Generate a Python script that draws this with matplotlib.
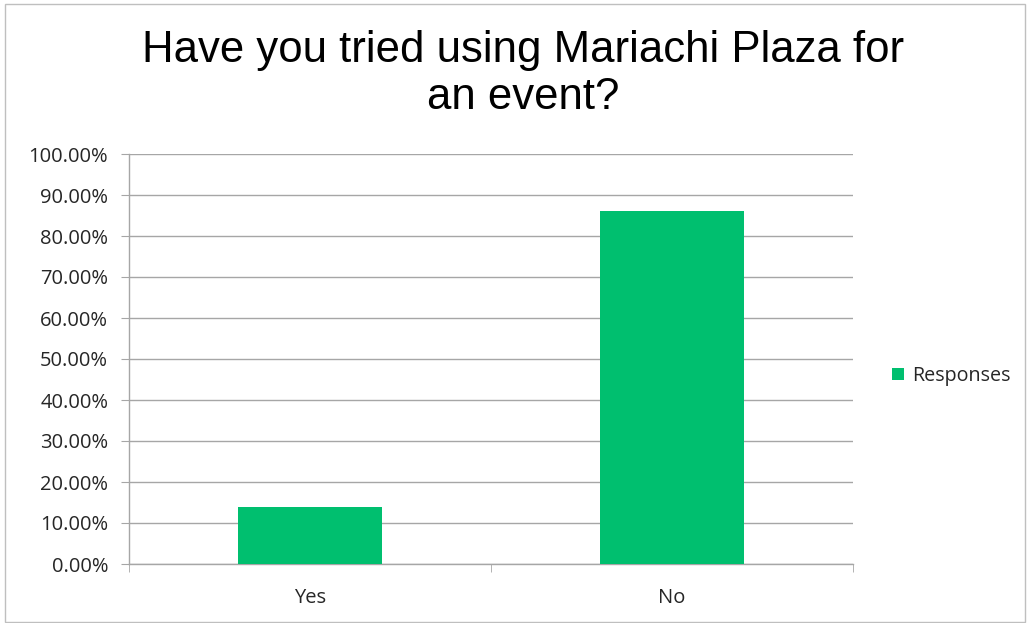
import matplotlib
matplotlib.use("Agg")
import matplotlib.pyplot as plt
from matplotlib.patches import Rectangle
from matplotlib.ticker import FuncFormatter, MultipleLocator

categories = ["Yes", "No"]
values = [14.0, 86.0]
series_name = "Responses"
title = "Have you tried using Mariachi Plaza for\nan event?"

W, H = 1029, 623
fig = plt.figure(figsize=(W / 100, H / 100), dpi=100)
ax = fig.add_axes([129 / W, 59 / H, 724 / W, 410 / H])

x = list(range(len(categories)))
ax.bar(x, values, width=0.4, color="#00BF6F", label=series_name, zorder=3)
ax.set_xlim(-0.5, len(categories) - 0.5)
ax.set_ylim(0, 100)
ax.yaxis.set_major_locator(MultipleLocator(10))
ax.yaxis.set_major_formatter(FuncFormatter(lambda v, p: f"{v:.2f}%"))
ax.set_xticks(x)
ax.set_xticklabels(categories)
ax.set_xticks([i - 0.5 for i in range(len(categories) + 1)], minor=True)
ax.tick_params(axis="x", which="major", length=0, pad=17)
ax.tick_params(axis="x", which="minor", length=6, color="#A6A6A6", direction="out")
ax.tick_params(axis="y", length=6, color="#A6A6A6", pad=9)
for lbl in ax.get_xticklabels() + ax.get_yticklabels():
    lbl.set_fontfamily("Open Sans")
    lbl.set_fontsize(14.5)
    lbl.set_color("#262626")
ax.grid(axis="y", color="#A6A6A6", linewidth=1, zorder=0)
for s in ["top", "right"]:
    ax.spines[s].set_visible(False)
for s in ["left", "bottom"]:
    ax.spines[s].set_color("#A6A6A6")
    ax.spines[s].set_linewidth(1)

fig.text(523 / W, 1 - 74 / H, title, ha="center", va="center",
         fontsize=31.5, family="Liberation Sans", color="black", linespacing=1.2)

leg = fig.legend(loc="center left", bbox_to_anchor=(874 / W, 1 - 376 / H),
                 frameon=False, handlelength=0.62, handleheight=0.62,
                 handletextpad=0.4, prop={"family": "Open Sans", "size": 14.2})
for t in leg.get_texts():
    t.set_color("#262626")

fig.patches.append(Rectangle((5 / W, 1 / H), 1 - 9 / W, 1 - 5 / H,
                             transform=fig.transFigure, fill=False,
                             edgecolor="#BFBFBF", linewidth=1))

fig.savefig("out.png", dpi=100)
